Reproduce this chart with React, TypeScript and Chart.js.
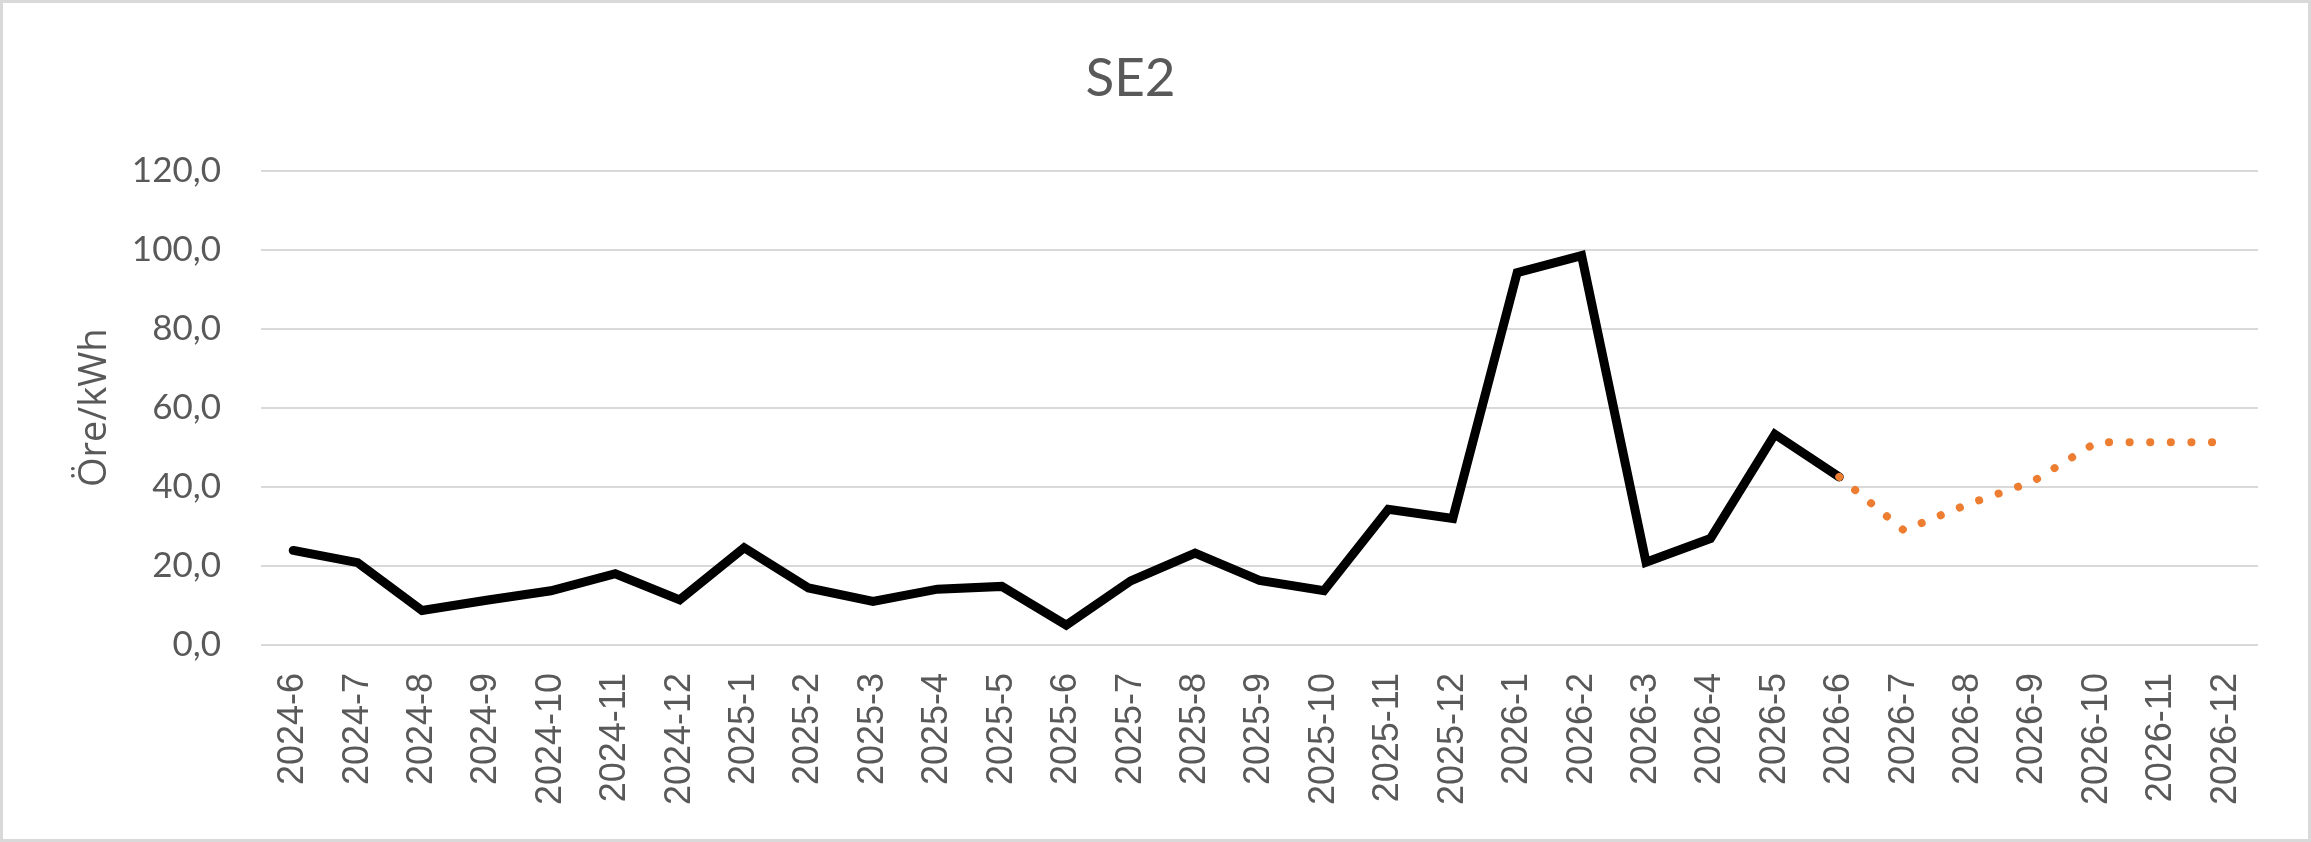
import React, { useEffect, useRef } from "react";
import { Chart, registerables } from "chart.js";

Chart.register(...registerables);

const categories = [
  "2024-6", "2024-7", "2024-8", "2024-9", "2024-10", "2024-11", "2024-12",
  "2025-1", "2025-2", "2025-3", "2025-4", "2025-5", "2025-6", "2025-7", "2025-8",
  "2025-9", "2025-10", "2025-11", "2025-12",
  "2026-1", "2026-2", "2026-3", "2026-4", "2026-5", "2026-6", "2026-7", "2026-8",
  "2026-9", "2026-10", "2026-11", "2026-12",
];

const actualValues: (number | null)[] = [
  23.9, 20.8, 8.7, 11.3, 13.7, 18.0, 11.4,
  24.6, 14.4, 11.0, 14.1, 14.8, 5.0, 16.2, 23.2,
  16.3, 13.7, 34.3, 32.0,
  94.2, 98.5, 20.9, 26.9, 53.3, 42.5,
  null, null, null, null, null, null,
];

const forecastValues: (number | null)[] = [
  null, null, null, null, null, null, null,
  null, null, null, null, null, null, null, null,
  null, null, null, null,
  null, null, null, null, null, 42.5,
  29.0, 35.6, 41.3, 51.3, 51.3, 51.3,
];

const yTicks = { min: 0, max: 120, step: 20 };
const titleText = "SE2";
const yTitle = "Öre/kWh";

const TEXT = "#595959";
const GRID = "#d9d9d9";

export default function App() {
  const ref = useRef<HTMLCanvasElement | null>(null);

  useEffect(() => {
    document.body.style.margin = "0";
    const canvas = ref.current;
    if (!canvas) return;
    const chart = new Chart(canvas, {
      type: "line",
      data: {
        labels: categories,
        datasets: [
          {
            label: "Utfall",
            data: actualValues,
            borderColor: "#000000",
            backgroundColor: "#000000",
            borderWidth: 9,
            borderCapStyle: "round",
            borderJoinStyle: "miter",
            pointRadius: 0,
            tension: 0,
            order: 1,
          },
          {
            label: "Prognos",
            data: forecastValues,
            borderColor: "#ED7D31",
            backgroundColor: "#ED7D31",
            borderWidth: 8,
            borderCapStyle: "round",
            borderDash: [0.1, 20.5],
            pointRadius: 0,
            tension: 0,
            order: 0,
          },
        ],
      },
      options: {
        responsive: false,
        animation: false,
        layout: { padding: { left: 0, right: 50, top: 0, bottom: 6 } },
        plugins: {
          legend: { display: false },
          tooltip: { enabled: false },
          title: {
            display: true,
            text: titleText,
            color: TEXT,
            font: { family: "Lato", size: 53, weight: "normal" },
            padding: { top: 44, bottom: 60 },
          },
        },
        scales: {
          x: {
            offset: true,
            grid: { display: false, drawTicks: false, offset: true },
            border: { display: false },
            ticks: {
              color: TEXT,
              font: { family: "Liberation Sans", size: 36 },
              minRotation: 90,
              maxRotation: 90,
              autoSkip: false,
              padding: 28,
            },
          },
          y: {
            min: yTicks.min,
            max: yTicks.max,
            afterFit: (scale: any) => {
              scale.width = 258;
            },
            grid: { color: GRID, lineWidth: 2, drawTicks: false },
            border: { display: false },
            ticks: {
              stepSize: yTicks.step,
              color: TEXT,
              font: { family: "Lato", size: 35 },
              padding: 40,
              callback: (v: any) => Number(v).toFixed(1).replace(".", ","),
            },
            title: {
              display: true,
              text: yTitle,
              color: TEXT,
              font: { family: "Open Sans", size: 38 },
              padding: { top: 69, bottom: 0 },
            },
          },
        },
      },
    });
    return () => chart.destroy();
  }, []);

  return (
    <div
      style={{
        width: 2311,
        height: 842,
        boxSizing: "border-box",
        border: "3px solid #d9d9d9",
        background: "#ffffff",
      }}
    >
      <canvas ref={ref} width={2305} height={836} style={{ display: "block" }} />
    </div>
  );
}
